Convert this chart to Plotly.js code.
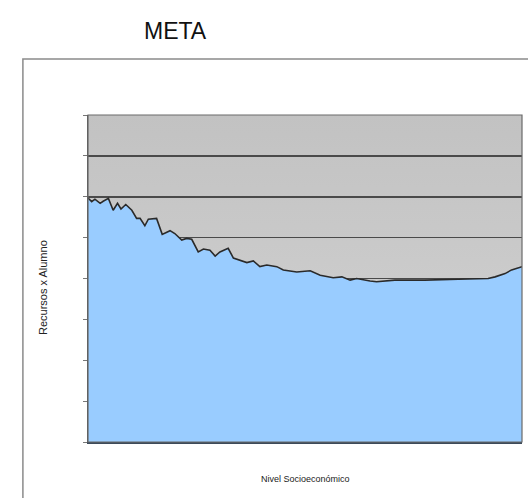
<!DOCTYPE html>
<html>
<head>
<meta charset="utf-8">
<script src="https://cdn.plot.ly/plotly-3.0.1.min.js"></script>
<style>
html,body{margin:0;padding:0;background:#fff;}
#wrap{position:relative;width:528px;height:498px;background:#fff;}
#bg{position:absolute;left:88px;top:115px;width:434px;height:327px;
    background:linear-gradient(to bottom,#c2c2c2 0%,#cacaca 45%,#d6d6d6 100%);}
#chart{position:absolute;left:0;top:0;width:528px;height:498px;}
</style>
</head>
<body>
<div id="wrap"><div id="bg"></div><div id="chart"></div></div>
<script>
// Nivel socioeconómico (0 = bajo, 100 = alto)
const nivel = [0,0.85,1.6,2.8,3.5,4.7,5.8,6.8,7.6,8.7,10.1,11.2,12.0,13.1,13.9,15.8,17.1,18.9,20.0,21.6,22.7,23.9,25.4,26.6,28.1,29.3,30.4,32.3,33.5,35.0,36.6,38.1,39.6,41.2,43.5,45.0,48.1,51.2,53.5,56.5,58.5,60.4,61.9,65.0,66.5,70.7,77.6,85.3,92.2,93.8,96.1,97.6,100];
// Recursos por alumno
const recursos = [5.97,5.88,5.94,5.84,5.89,5.96,5.67,5.84,5.70,5.81,5.67,5.47,5.47,5.29,5.45,5.47,5.08,5.17,5.10,4.94,4.98,4.96,4.65,4.72,4.69,4.55,4.65,4.74,4.50,4.45,4.39,4.43,4.29,4.33,4.29,4.21,4.16,4.19,4.08,4.02,4.04,3.96,4.00,3.94,3.92,3.96,3.96,3.98,4.00,4.04,4.12,4.21,4.29];
const titulo = "META";
const ejeY = "Recursos x Alumno";
const ejeX = "Nivel Socioeconómico";

const traces = [
  {x: nivel, y: recursos, type: 'scatter', mode: 'lines', fill: 'tozeroy',
   fillcolor: '#99ccff', line: {color: '#2a2a2a', width: 1.6}, hoverinfo: 'skip'}
];

const layout = {
  width: 528, height: 498,
  margin: {l: 88, r: 6, t: 115, b: 56},
  paper_bgcolor: 'rgba(0,0,0,0)',
  plot_bgcolor: 'rgba(0,0,0,0)',
  showlegend: false,
  font: {family: 'Liberation Sans, Arial, sans-serif', color: '#000'},
  xaxis: {range: [0, 100], showgrid: false, zeroline: false, showticklabels: false,
          showline: true, linecolor: '#3c4a5a', linewidth: 2, ticks: ''},
  yaxis: {range: [0, 8], dtick: 1, showgrid: true, gridcolor: '#4a4a4a', gridwidth: 1.7,
          zeroline: false, showticklabels: false, showline: true, linecolor: '#555555',
          linewidth: 1.5, ticks: 'outside', ticklen: 4, tickcolor: '#777'},
  shapes: [
    {type: 'rect', xref: 'paper', yref: 'paper', x0: -0.150, x1: 1.03, y0: -0.2, y1: 1.171,
     line: {color: '#8a8a8a', width: 1.5}, fillcolor: 'rgba(0,0,0,0)', layer: 'below'},
    {type: 'rect', xref: 'paper', yref: 'paper', x0: 0, x1: 1, y0: 0, y1: 1,
     line: {color: '#6a6a6a', width: 1.2}, fillcolor: 'rgba(0,0,0,0)', layer: 'above'}
  ],
  annotations: [
    {text: titulo, xref: 'paper', yref: 'paper', x: (175-88)/434, y: (442-31)/327,
     xanchor: 'center', yanchor: 'middle', showarrow: false,
     font: {size: 23, family: 'Liberation Sans, Arial, sans-serif', color: '#111'}},
    {text: ejeY, xref: 'paper', yref: 'paper', x: (43-88)/434, y: (442-288)/327,
     xanchor: 'center', yanchor: 'middle', showarrow: false, textangle: -90,
     font: {size: 11, family: 'Liberation Sans Narrow, Liberation Sans, sans-serif', color: '#222'}},
    {text: ejeX, xref: 'paper', yref: 'paper', x: (305-88)/434, y: (442-479)/327,
     xanchor: 'center', yanchor: 'middle', showarrow: false,
     font: {size: 9, family: 'Liberation Sans Narrow, Liberation Sans, sans-serif', color: '#222'}}
  ]
};

Plotly.newPlot('chart', traces, layout, {displayModeBar: false, staticPlot: true});
</script>
</body>
</html>
